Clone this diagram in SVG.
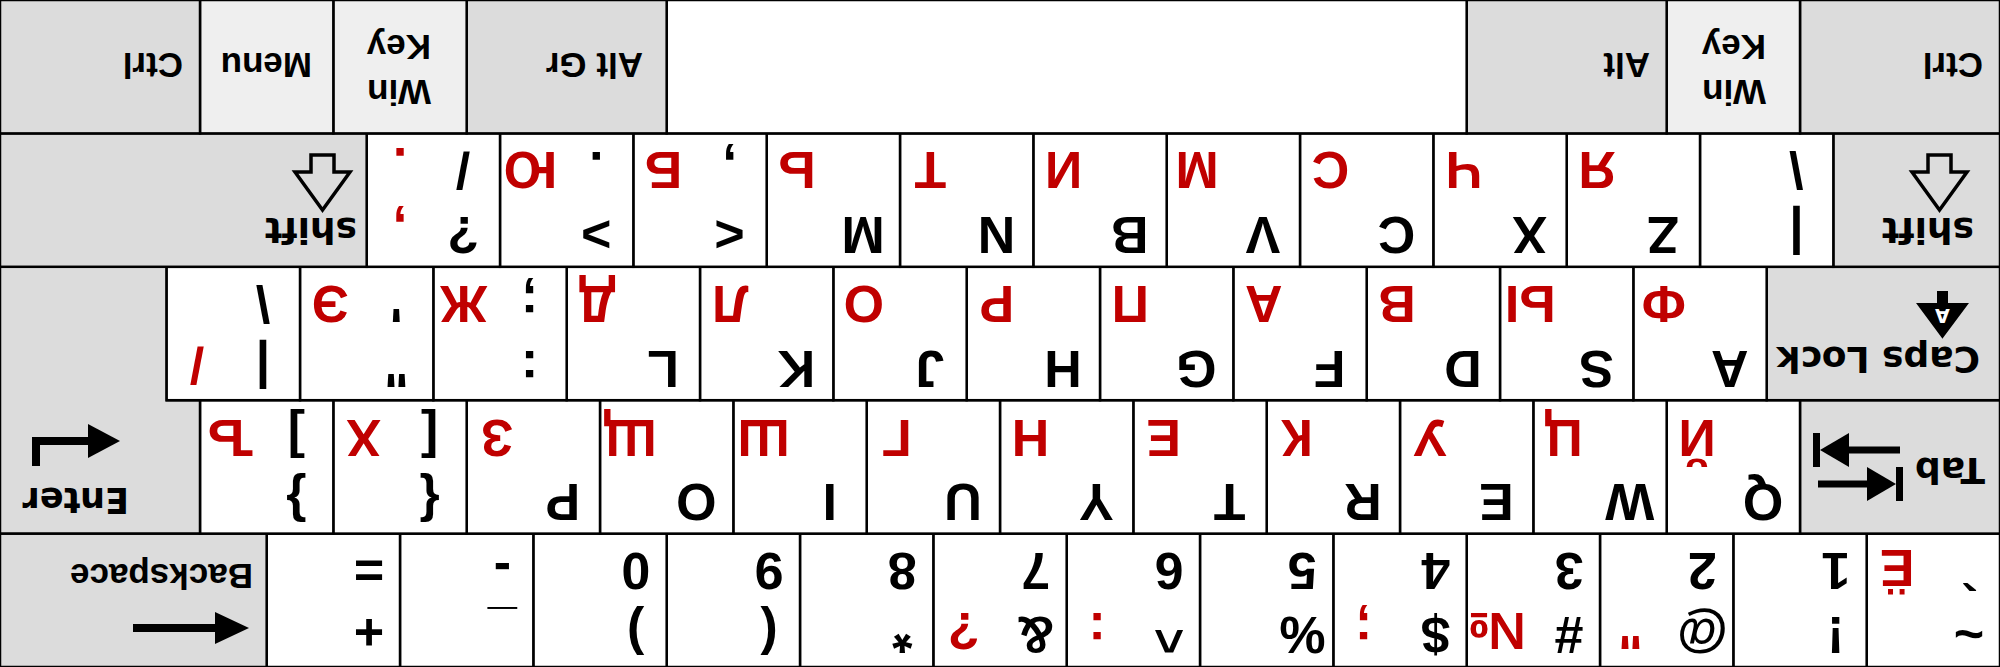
<svg xmlns="http://www.w3.org/2000/svg" width="2000" height="667" viewBox="0 0 2000 667">
<style>
.k{stroke:#000;stroke-width:2.5}
.w{fill:#fff}.g{fill:#dcdcdc}.l{fill:#efefef}
.b{font-family:"Liberation Sans",Arial,sans-serif;font-weight:bold;font-size:52px;fill:#000;text-anchor:middle}
.r{font-family:"Liberation Sans",Arial,sans-serif;font-weight:bold;font-size:52px;fill:#c00000;text-anchor:middle}
.lab{font-family:"Liberation Sans",Arial,sans-serif;font-weight:bold;font-size:35px;fill:#000}
.lab2{font-family:"DejaVu Sans",sans-serif;font-weight:bold;font-size:36px;fill:#000}
.ico{fill:#000}
.sh{fill:none;stroke:#000;stroke-width:3.5;stroke-linejoin:miter}
</style>
<rect x="0" y="0" width="2000" height="667" fill="#fff"/>
<g transform="rotate(180 1000 333.5)">
<!-- Row 0 -->
<g id="key-grave"><rect class="k w" x="0" y="0" width="133.33" height="133.4"/><text class="b" x="31" y="50">~</text><text class="b" x="31" y="114">`</text><text class="r" x="103" y="117">Ё</text></g>
<g id="key-1"><rect class="k w" x="133.33" y="0" width="133.33" height="133.4"/><text class="b" x="164.33" y="50">!</text><text class="b" x="164.33" y="114">1</text></g>
<g id="key-2"><rect class="k w" x="266.67" y="0" width="133.33" height="133.4"/><text class="b" x="297.67" y="50">@</text><text class="b" x="297.67" y="114">2</text><text class="r" x="369.67" y="54">"</text></g>
<g id="key-3"><rect class="k w" x="400" y="0" width="133.33" height="133.4"/><text class="b" x="431" y="50">#</text><text class="b" x="431" y="114">3</text><text class="r" x="503" y="54">№</text></g>
<g id="key-4"><rect class="k w" x="533.33" y="0" width="133.33" height="133.4"/><text class="b" x="564.33" y="50">$</text><text class="b" x="564.33" y="114">4</text><text class="r" x="636.33" y="54">;</text></g>
<g id="key-5"><rect class="k w" x="666.67" y="0" width="133.33" height="133.4"/><text class="b" x="697.67" y="50">%</text><text class="b" x="697.67" y="114">5</text></g>
<g id="key-6"><rect class="k w" x="800" y="0" width="133.33" height="133.4"/><text class="b" x="831" y="50">^</text><text class="b" x="831" y="114">6</text><text class="r" x="903" y="54">:</text></g>
<g id="key-7"><rect class="k w" x="933.33" y="0" width="133.33" height="133.4"/><text class="b" x="964.33" y="50">&amp;</text><text class="b" x="964.33" y="114">7</text><text class="r" x="1036.33" y="54">?</text></g>
<g id="key-8"><rect class="k w" x="1066.67" y="0" width="133.33" height="133.4"/><text class="b" x="1097.67" y="50">*</text><text class="b" x="1097.67" y="114">8</text></g>
<g id="key-9"><rect class="k w" x="1200" y="0" width="133.33" height="133.4"/><text class="b" x="1231" y="50">(</text><text class="b" x="1231" y="114">9</text></g>
<g id="key-0"><rect class="k w" x="1333.33" y="0" width="133.33" height="133.4"/><text class="b" x="1364.33" y="50">)</text><text class="b" x="1364.33" y="114">0</text></g>
<g id="key-minus"><rect class="k w" x="1466.67" y="0" width="133.33" height="133.4"/><text class="b" x="1497.67" y="54">_</text><text class="b" x="1497.67" y="114">-</text></g>
<g id="key-equal"><rect class="k w" x="1600" y="0" width="133.33" height="133.4"/><text class="b" x="1631" y="52">+</text><text class="b" x="1631" y="114">=</text></g>
<g id="key-backspace"><rect class="k g" x="1733.33" y="0" width="266.67" height="133.4"/><rect class="ico" x="1782" y="35" width="85" height="8"/><polygon class="ico" points="1751,39 1785,23 1785,55"/><text class="lab" x="1747" y="103">Backspace</text></g>
<!-- Row 1 -->
<g id="key-tab"><rect class="k g" x="0" y="133.4" width="200" height="133.4"/><text class="lab2" x="15" y="209">Tab</text><rect class="ico" x="97" y="166" width="7" height="34"/><polygon class="ico" points="104,183 133,166 133,200"/><rect class="ico" x="132" y="179.5" width="50" height="7"/><rect class="ico" x="100" y="213.5" width="52" height="7"/><polygon class="ico" points="180,217 151,200 151,234"/><rect class="ico" x="180" y="200" width="7" height="34"/></g>
<g id="key-q"><rect class="k w" x="200" y="133.4" width="133.33" height="133.4"/><text class="b" x="237" y="183">Q</text><text class="r" x="303" y="247">Й</text></g>
<g id="key-w"><rect class="k w" x="333.33" y="133.4" width="133.33" height="133.4"/><text class="b" x="370.33" y="183">W</text><text class="r" x="436.33" y="247">Ц</text></g>
<g id="key-e"><rect class="k w" x="466.67" y="133.4" width="133.33" height="133.4"/><text class="b" x="503.67" y="183">E</text><text class="r" x="569.67" y="247">У</text></g>
<g id="key-r"><rect class="k w" x="600" y="133.4" width="133.33" height="133.4"/><text class="b" x="637" y="183">R</text><text class="r" x="703" y="247">К</text></g>
<g id="key-t"><rect class="k w" x="733.33" y="133.4" width="133.33" height="133.4"/><text class="b" x="770.33" y="183">T</text><text class="r" x="836.33" y="247">Е</text></g>
<g id="key-y"><rect class="k w" x="866.67" y="133.4" width="133.33" height="133.4"/><text class="b" x="903.67" y="183">Y</text><text class="r" x="969.67" y="247">Н</text></g>
<g id="key-u"><rect class="k w" x="1000" y="133.4" width="133.33" height="133.4"/><text class="b" x="1037" y="183">U</text><text class="r" x="1103" y="247">Г</text></g>
<g id="key-i"><rect class="k w" x="1133.33" y="133.4" width="133.33" height="133.4"/><text class="b" x="1170.33" y="183">I</text><text class="r" x="1236.33" y="247">Ш</text></g>
<g id="key-o"><rect class="k w" x="1266.67" y="133.4" width="133.33" height="133.4"/><text class="b" x="1303.67" y="183">O</text><text class="r" x="1369.67" y="247">Щ</text></g>
<g id="key-p"><rect class="k w" x="1400" y="133.4" width="133.33" height="133.4"/><text class="b" x="1437" y="183">P</text><text class="r" x="1503" y="247">З</text></g>
<g id="key-lbracket"><rect class="k w" x="1533.33" y="133.4" width="133.33" height="133.4"/><text class="b" x="1570.33" y="183">{</text><text class="b" x="1570.33" y="247">[</text><text class="r" x="1636.33" y="247">Х</text></g>
<g id="key-rbracket"><rect class="k w" x="1666.67" y="133.4" width="133.33" height="133.4"/><text class="b" x="1703.67" y="183">}</text><text class="b" x="1703.67" y="247">]</text><text class="r" x="1769.67" y="247">Ъ</text></g>
<g id="key-enter"><polygon class="k g" points="1800,133.4 2000,133.4 2000,400.2 1833.33,400.2 1833.33,266.8 1800,266.8"/><text class="lab2" x="1871" y="179" style="font-size:35px">Enter</text><rect class="ico" x="1910" y="222" width="58" height="8"/><rect class="ico" x="1960" y="201" width="8" height="29"/><polygon class="ico" points="1880,226 1912,209 1912,243"/></g>
<!-- Row 2 -->
<g id="key-caps"><rect class="k g" x="0" y="266.8" width="233.33" height="133.4"/><text class="lab2" x="20" y="320">Caps Lock</text><polygon points="57.5,330 33,363 82,363" fill="#000" stroke="#000" stroke-width="2"/><text x="57.5" y="358" style="font-family:'DejaVu Sans',sans-serif;font-weight:bold;font-size:19px;text-anchor:middle;fill:#fff">A</text><rect class="ico" x="52" y="362" width="11" height="14"/></g>
<g id="key-a"><rect class="k w" x="233.33" y="266.8" width="133.33" height="133.4"/><text class="b" x="270.33" y="316">A</text><text class="r" x="336.33" y="381">Ф</text></g>
<g id="key-s"><rect class="k w" x="366.67" y="266.8" width="133.33" height="133.4"/><text class="b" x="403.67" y="316">S</text><text class="r" x="469.67" y="381">Ы</text></g>
<g id="key-d"><rect class="k w" x="500" y="266.8" width="133.33" height="133.4"/><text class="b" x="537" y="316">D</text><text class="r" x="603" y="381">В</text></g>
<g id="key-f"><rect class="k w" x="633.33" y="266.8" width="133.33" height="133.4"/><text class="b" x="670.33" y="316">F</text><text class="r" x="736.33" y="381">А</text></g>
<g id="key-g"><rect class="k w" x="766.67" y="266.8" width="133.33" height="133.4"/><text class="b" x="803.67" y="316">G</text><text class="r" x="869.67" y="381">П</text></g>
<g id="key-h"><rect class="k w" x="900" y="266.8" width="133.33" height="133.4"/><text class="b" x="937" y="316">H</text><text class="r" x="1003" y="381">Р</text></g>
<g id="key-j"><rect class="k w" x="1033.33" y="266.8" width="133.33" height="133.4"/><text class="b" x="1070.33" y="316">J</text><text class="r" x="1136.33" y="381">О</text></g>
<g id="key-k"><rect class="k w" x="1166.67" y="266.8" width="133.33" height="133.4"/><text class="b" x="1203.67" y="316">K</text><text class="r" x="1269.67" y="381">Л</text></g>
<g id="key-l"><rect class="k w" x="1300" y="266.8" width="133.33" height="133.4"/><text class="b" x="1337" y="316">L</text><text class="r" x="1403" y="381">Д</text></g>
<g id="key-semicolon"><rect class="k w" x="1433.33" y="266.8" width="133.33" height="133.4"/><text class="b" x="1470.33" y="316">:</text><text class="b" x="1470.33" y="381">;</text><text class="r" x="1536.33" y="381">Ж</text></g>
<g id="key-quote"><rect class="k w" x="1566.67" y="266.8" width="133.33" height="133.4"/><text class="b" x="1603.67" y="316">"</text><text class="b" x="1603.67" y="381">'</text><text class="r" x="1669.67" y="381">Э</text></g>
<g id="key-backslash"><rect class="k w" x="1700" y="266.8" width="133.33" height="133.4"/><text class="b" x="1737" y="316">|</text><text class="b" x="1737" y="381">\</text><text class="r" x="1803" y="320">/</text></g>
<!-- Row 3 -->
<g id="key-lshift"><rect class="k g" x="0" y="400.2" width="166.67" height="133.4"/><text class="lab2" x="26" y="449">shift</text><polygon class="sh" points="60.5,457 88,495 72,495 72,512 49,512 49,495 33,495"/></g>
<g id="key-iso"><rect class="k w" x="166.67" y="400.2" width="133.33" height="133.4"/><text class="b" x="203.67" y="450">|</text><text class="b" x="203.67" y="515">\</text></g>
<g id="key-z"><rect class="k w" x="300" y="400.2" width="133.33" height="133.4"/><text class="b" x="337" y="450">Z</text><text class="r" x="403" y="515">Я</text></g>
<g id="key-x"><rect class="k w" x="433.33" y="400.2" width="133.33" height="133.4"/><text class="b" x="470.33" y="450">X</text><text class="r" x="536.33" y="515">Ч</text></g>
<g id="key-c"><rect class="k w" x="566.67" y="400.2" width="133.33" height="133.4"/><text class="b" x="603.67" y="450">C</text><text class="r" x="669.67" y="515">С</text></g>
<g id="key-v"><rect class="k w" x="700" y="400.2" width="133.33" height="133.4"/><text class="b" x="737" y="450">V</text><text class="r" x="803" y="515">М</text></g>
<g id="key-b"><rect class="k w" x="833.33" y="400.2" width="133.33" height="133.4"/><text class="b" x="870.33" y="450">B</text><text class="r" x="936.33" y="515">И</text></g>
<g id="key-n"><rect class="k w" x="966.67" y="400.2" width="133.33" height="133.4"/><text class="b" x="1003.67" y="450">N</text><text class="r" x="1069.67" y="515">Т</text></g>
<g id="key-m"><rect class="k w" x="1100" y="400.2" width="133.33" height="133.4"/><text class="b" x="1137" y="450">M</text><text class="r" x="1203" y="515">Ь</text></g>
<g id="key-comma"><rect class="k w" x="1233.33" y="400.2" width="133.33" height="133.4"/><text class="b" x="1270.33" y="450">&lt;</text><text class="b" x="1270.33" y="515">,</text><text class="r" x="1336.33" y="515">Б</text></g>
<g id="key-period"><rect class="k w" x="1366.67" y="400.2" width="133.33" height="133.4"/><text class="b" x="1403.67" y="450">&gt;</text><text class="b" x="1403.67" y="515">.</text><text class="r" x="1469.67" y="515">Ю</text></g>
<g id="key-slash"><rect class="k w" x="1500" y="400.2" width="133.33" height="133.4"/><text class="b" x="1537" y="450">?</text><text class="b" x="1537" y="515">/</text><text class="r" x="1600" y="453">,</text><text class="r" x="1600" y="519">.</text></g>
<g id="key-rshift"><rect class="k g" x="1633.33" y="400.2" width="366.67" height="133.4"/><text class="lab2" x="1643" y="449">shift</text><polygon class="sh" points="1677.5,457 1705,495 1689,495 1689,512 1666,512 1666,495 1650,495"/></g>
<!-- Row 4 -->
<g id="key-lctrl"><rect class="k g" x="0" y="533.6" width="200" height="133.4"/><text class="lab" x="17" y="614">Ctrl</text></g>
<g id="key-lwin"><rect class="k l" x="200" y="533.6" width="133.33" height="133.4"/><text class="lab" x="234" y="587">Win</text><text class="lab" x="234" y="632">Key</text></g>
<g id="key-lalt"><rect class="k g" x="333.33" y="533.6" width="200" height="133.4"/><text class="lab" x="350" y="614">Alt</text></g>
<g id="key-space"><rect class="k w" x="533.33" y="533.6" width="800" height="133.4"/></g>
<g id="key-altgr"><rect class="k g" x="1333.33" y="533.6" width="200" height="133.4"/><text class="lab" x="1357" y="614">Alt Gr</text></g>
<g id="key-rwin"><rect class="k l" x="1533.33" y="533.6" width="133.33" height="133.4"/><text class="lab" x="1569" y="587">Win</text><text class="lab" x="1569" y="632">Key</text></g>
<g id="key-menu"><rect class="k l" x="1666.67" y="533.6" width="133.33" height="133.4"/><text class="lab" x="1688" y="614">Menu</text></g>
<g id="key-rctrl"><rect class="k g" x="1800" y="533.6" width="200" height="133.4"/><text class="lab" x="1817" y="614">Ctrl</text></g>
</g>
<g id="connectors"/>
</svg>
